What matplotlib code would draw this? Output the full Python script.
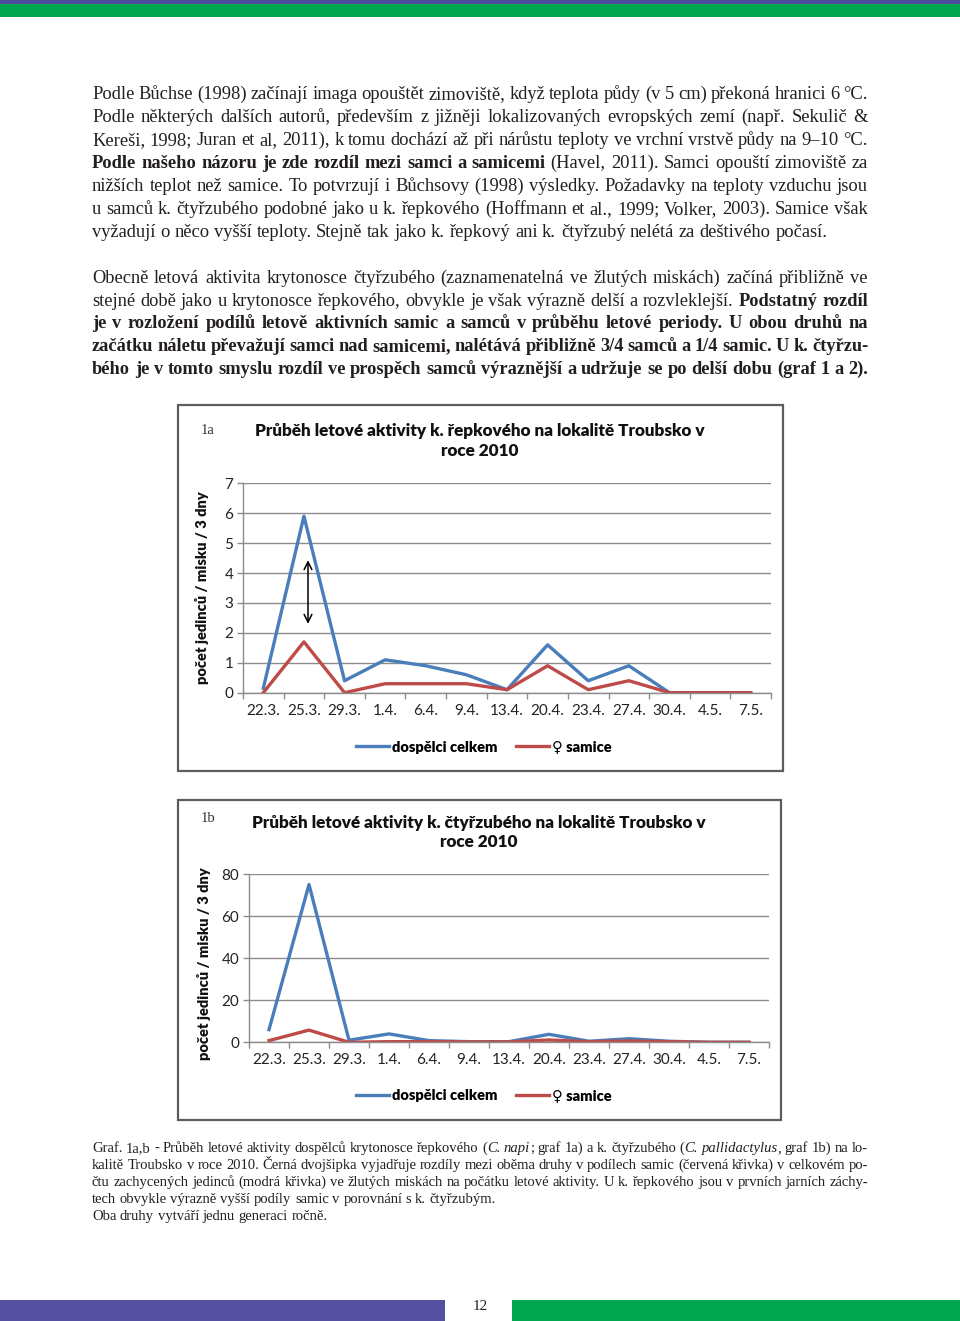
import matplotlib
matplotlib.use('Agg')
import matplotlib.pyplot as plt
from matplotlib.patches import Rectangle
from matplotlib.font_manager import FontProperties

# data
dates = ['22.3.', '25.3.', '29.3.', '1.4.', '6.4.', '9.4.', '13.4.',
         '20.4.', '23.4.', '27.4.', '30.4.', '4.5.', '7.5.']
napi_total = [0.15, 5.9, 0.4, 1.1, 0.9, 0.6, 0.1, 1.6, 0.4, 0.9, 0, 0, 0]
napi_females = [0, 1.7, 0, 0.3, 0.3, 0.3, 0.1, 0.9, 0.1, 0.4, 0, 0, 0]
pall_total = [6, 75, 1, 4, 0.8, 0.3, 0.3, 3.8, 0.5, 1.7, 0.5, 0, 0]
pall_females = [0.8, 5.8, 0, 0.3, 0.3, 0.2, 0.2, 1.1, 0.3, 0.6, 0.3, 0, 0]

title_1a = 'Průběh letové aktivity k. řepkového na lokalitě Troubsko v\nroce 2010'
title_1b = 'Průběh letové aktivity k. čtyřzubého na lokalitě Troubsko v\nroce 2010'
ylabel = 'počet jedinců / misku / 3 dny'
legend_labels = ['dospělci celkem', '♀ samice']

N, B, I = ('normal', 'normal'), ('bold', 'normal'), ('normal', 'italic')

para1 = [
    [("Podle Bůchse (1998) začínají imaga opouštět zimoviště, když teplota půdy (v 5 cm) překoná hranici 6 °C.", N)],
    [("Podle některých dalších autorů, především z jižněji lokalizovaných evropských zemí (např. Sekulič &", N)],
    [("Kereši, 1998; Juran et al, 2011), k tomu dochází až při nárůstu teploty ve vrchní vrstvě půdy na 9–10 °C.", N)],
    [("Podle našeho názoru je zde rozdíl mezi samci a samicemi", B), (" (Havel, 2011). Samci opouští zimoviště za", N)],
    [("nižších teplot než samice. To potvrzují i Bůchsovy (1998) výsledky. Požadavky na teploty vzduchu jsou", N)],
    [("u samců k. čtyřzubého podobné jako u k. řepkového (Hoffmann et al., 1999; Volker, 2003). Samice však", N)],
    [("vyžadují o něco vyšší teploty. Stejně tak jako k. řepkový ani k. čtyřzubý nelétá za deštivého počasí.", N)],
]
para2 = [
    [("Obecně letová aktivita krytonosce čtyřzubého (zaznamenatelná ve žlutých miskách) začíná přibližně ve", N)],
    [("stejné době jako u krytonosce řepkového, obvykle je však výrazně delší a rozvleklejší. ", N), ("Podstatný rozdíl", B)],
    [("je v rozložení podílů letově aktivních samic a samců v průběhu letové periody. U obou druhů na", B)],
    [("začátku náletu převažují samci nad samicemi, nalétává přibližně 3/4 samců a 1/4 samic. U k. čtyřzu-", B)],
    [("bého je v tomto smyslu rozdíl ve prospěch samců výraznější a udržuje se po delší dobu (graf 1 a 2).", B)],
]
caption = [
    [("Graf. 1a,b - Průběh letové aktivity dospělců krytonosce řepkového (", N), ("C. napi", I),
     ("; graf 1a) a k. čtyřzubého (", N), ("C. pallidactylus", I), (", graf 1b) na lo-", N)],
    [("kalitě Troubsko v roce 2010. Černá dvojšipka vyjadřuje rozdíly mezi oběma druhy v podílech samic (červená křivka) v celkovém po-", N)],
    [("čtu zachycených jedinců (modrá křivka) ve žlutých miskách na počátku letové aktivity. U k. řepkového jsou v prvních jarních záchy-", N)],
    [("tech obvykle výrazně vyšší podíly samic v porovnání s k. čtyřzubým.", N)],
    [("Oba druhy vytváří jednu generaci ročně.", N)],
]

W, H = 960, 1321
BLUE = '#4a7ebb'
RED = '#be4b48'
GRID = '#8c8c8c'
TXT = '#231f20'
SERIF = 'Liberation Serif'
SANS = ['Lato', 'DejaVu Sans']

fig = plt.figure(figsize=(W / 100, H / 100), dpi=100)
renderer = fig.canvas.get_renderer()


def fx(x):
    return x / W


def fy(y):
    return 1 - y / H


def band(x0, y0, x1, y1, color):
    fig.add_artist(Rectangle((fx(x0), fy(y1)), (x1 - x0) / W, (y1 - y0) / H,
                             transform=fig.transFigure, color=color, lw=0))


# page decoration
band(0, 0, W, 3.5, '#4c4f9c')
band(0, 3.5, W, 17, '#00a650')
band(0, 1300, 445, H, '#544f9f')
band(512, 1300, W, H, '#00a650')
fig.text(fx(480), fy(1306), '12', family=SERIF, fontsize=11, color=TXT,
         ha='center', va='center')


def width(s, size, style):
    t = fig.text(0, 0, s, family=SERIF, fontsize=size, weight=style[0], style=style[1])
    w = t.get_window_extent(renderer).width
    t.remove()
    return w


def split_words(segs):
    # tokens keep their style; tokens without a space between them form one word
    toks = []
    space_before = False
    for txt, st in segs:
        for i, p in enumerate(txt.split(' ')):
            if p:
                toks.append([p, st, space_before if i == 0 else True])
        space_before = txt.endswith(' ')
    words = []
    for t in toks:
        if t[2] or not words:
            words.append([t])
        else:
            words[-1].append(t)
    return words


def draw_block(lines, y0, dy, size, n_justified, left=92, right=868):
    avail = right - left
    all_words = [split_words(l) for l in lines]
    # one font size for the block, small enough for the widest line
    for _ in range(3):
        space = width('x x', size, N) - width('xx', size, N)
        widest = 0
        for words in all_words:
            tot = sum(width(t[0], size, t[1]) for wd in words for t in wd)
            widest = max(widest, tot + space * 0.85 * (len(words) - 1))
        if widest <= avail:
            break
        size *= avail / widest * 0.998
    for k, words in enumerate(all_words):
        y = y0 + dy * k
        ws = [[width(t[0], size, t[1]) for t in wd] for wd in words]
        total = sum(sum(w) for w in ws)
        if k < n_justified and len(words) > 1:
            gap = (avail - total) / (len(words) - 1)
        else:
            gap = space
        x = left
        for wd, wl in zip(words, ws):
            for t, w in zip(wd, wl):
                fig.text(fx(x), fy(y), t[0], family=SERIF, fontsize=size, weight=t[1][0],
                         style=t[1][1], color=TXT, ha='left', va='baseline')
                x += w
            x += gap


draw_block(para1, 99, 23, 13.5, len(para1) - 1)
draw_block(para2, 283, 22.75, 13.5, len(para2))
draw_block(caption, 1152, 17, 11, 3)


def chart(box, plot, total, females, ymax, ystep, title, tag, title_y, label_y, legend_y):
    bx0, by0, bx1, by1 = box
    fig.add_artist(Rectangle((fx(bx0), fy(by1)), (bx1 - bx0) / W, (by1 - by0) / H,
                             transform=fig.transFigure, fill=False,
                             edgecolor='#5c5c5c', lw=1.6))
    x0, ytop, x1, ybot = plot
    ax = fig.add_axes([fx(x0), fy(ybot), (x1 - x0) / W, (ybot - ytop) / H])
    xs = range(len(dates))
    ax.plot(xs, total, color=BLUE, lw=2.4, label=legend_labels[0])
    ax.plot(xs, females, color=RED, lw=2.4, label=legend_labels[1])
    ax.set_xlim(-0.5, len(dates) - 0.5)
    ax.set_ylim(0, ymax)
    ax.set_yticks(range(0, ymax + 1, ystep))
    ax.yaxis.grid(True, color=GRID, lw=1.0)
    ax.set_axisbelow(True)
    ax.set_xticks([i - 0.5 for i in range(len(dates) + 1)])
    ax.set_xticklabels([])
    ax.set_xticks(list(xs), minor=True)
    ax.set_xticklabels(dates, minor=True, family=SANS, fontsize=11, color='#222222')
    ax.tick_params(axis='x', which='major', length=4, color=GRID, width=1)
    ax.tick_params(axis='x', which='minor', length=0, pad=8)
    ax.tick_params(axis='y', length=4, color=GRID, width=1, pad=3,
                   labelsize=11, labelcolor='#222222')
    for lbl in ax.get_yticklabels():
        lbl.set_family(SANS)
    for s in ('top', 'right'):
        ax.spines[s].set_visible(False)
    for s in ('left', 'bottom'):
        ax.spines[s].set_color(GRID)
        ax.spines[s].set_linewidth(1.0)
    ax.set_ylabel(ylabel, family=SANS, weight='heavy', fontsize=10.5, color='#111111')
    ax.yaxis.set_label_coords(label_y[0], label_y[1])
    fig.text(fx((bx0 + bx1) / 2 - 0.5), fy(title_y), title, family=SANS, weight='heavy',
             fontsize=12.3, color='#111111', ha='center', va='center', linespacing=1.3)
    fig.text(fx(bx0 + 23), fy(tag[1]), tag[0], family=SERIF, fontsize=10.5,
             color='#333333', ha='left', va='center')
    ax.legend(loc='center', bbox_to_anchor=(fx(484), fy(legend_y)),
              bbox_transform=fig.transFigure, ncol=2, frameon=False,
              handlelength=2.25, handletextpad=0.2, columnspacing=1.3,
              prop=FontProperties(family=SANS, weight='heavy', size=10.5))
    return ax


ax1 = chart((178, 405, 783, 771), (243, 483.3, 771, 692.7), napi_total, napi_females,
            7, 1, title_1a, ('1a', 430), 441, (-0.064, 0.5), 747)
# black double arrow marking the difference at the first peak
ax1.annotate('', xy=(1.1, 2.3), xytext=(1.1, 4.43),
             arrowprops=dict(arrowstyle='<->', color='black', lw=1.1,
                             mutation_scale=14, shrinkA=0, shrinkB=0))

chart((178, 800, 781, 1120), (249, 874, 769, 1042.3), pall_total, pall_females,
      80, 20, title_1b, ('1b', 819), 832.5, (-0.073, 0.47), 1096)

fig.savefig('out.png', dpi=100)
